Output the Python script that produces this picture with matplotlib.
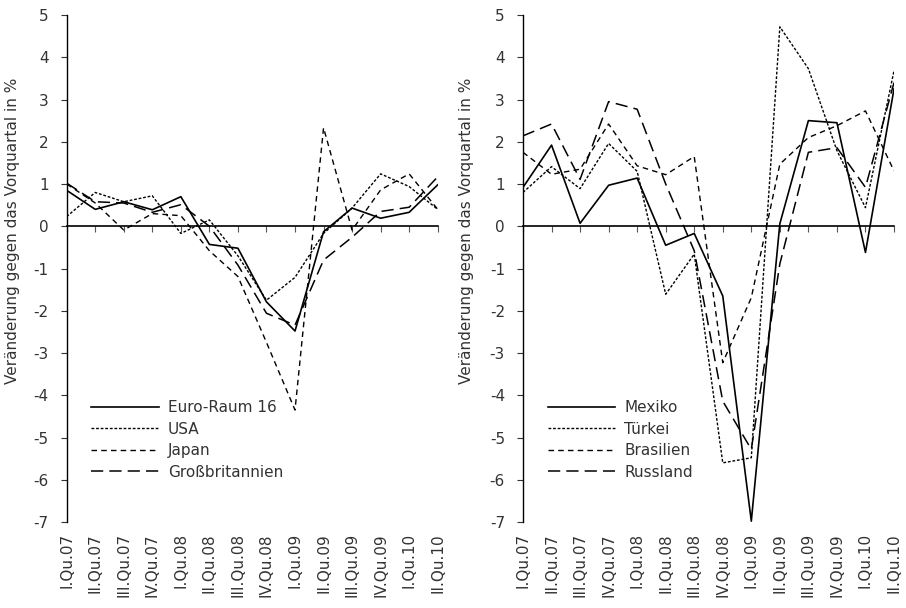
import matplotlib
matplotlib.use("Agg")
import matplotlib.pyplot as plt

categories = ["I.Qu.07", "II.Qu.07", "III.Qu.07", "IV.Qu.07",
              "I.Qu.08", "II.Qu.08", "III.Qu.08", "IV.Qu.08",
              "I.Qu.09", "II.Qu.09", "III.Qu.09", "IV.Qu.09",
              "I.Qu.10", "II.Qu.10"]

euro = [0.85, 0.40, 0.58, 0.39, 0.70, -0.43, -0.52, -1.79, -2.48, -0.13, 0.43, 0.19, 0.33, 0.98]
usa = [0.23, 0.80, 0.58, 0.72, -0.17, 0.15, -0.70, -1.75, -1.21, -0.17, 0.43, 1.24, 0.94, 0.40]
japan = [1.00, 0.55, -0.09, 0.30, 0.25, -0.58, -1.19, -2.75, -4.35, 2.33, -0.09, 0.86, 1.24, 0.40]
gb = [1.02, 0.58, 0.55, 0.33, 0.51, 0.00, -0.92, -2.06, -2.34, -0.80, -0.26, 0.35, 0.45, 1.17]

mexiko = [0.92, 1.92, 0.07, 0.97, 1.14, -0.45, -0.17, -1.65, -6.98, 0.06, 2.50, 2.45, -0.62, 3.25]
tuerkei = [0.80, 1.41, 0.89, 1.96, 1.30, -1.61, -0.66, -5.60, -5.48, 4.72, 3.73, 1.79, 0.44, 3.68]
brasilien = [1.75, 1.23, 1.35, 2.42, 1.43, 1.22, 1.65, -3.23, -1.69, 1.47, 2.10, 2.38, 2.73, 1.31]
russland = [2.14, 2.42, 1.11, 2.95, 2.77, 1.00, -0.58, -4.14, -5.28, -0.89, 1.75, 1.86, 0.92, 3.40]

left_series = [("Euro-Raum 16", euro), ("USA", usa), ("Japan", japan), ("Großbritannien", gb)]
right_series = [("Mexiko", mexiko), ("Türkei", tuerkei), ("Brasilien", brasilien), ("Russland", russland)]

ylabel = "Veränderung gegen das Vorquartal in %"
yticks = list(range(-7, 6))

plt.rcParams['font.family'] = ['DejaVu Sans']
txtcol = "#333333"
FS = 11

styles = [
    dict(linestyle="-", lw=1.2),
    dict(linestyle=(0, (2.0, 1.3)), lw=1.0),
    dict(linestyle=(0, (4.0, 3.0)), lw=1.0),
    dict(linestyle=(0, (8.0, 4.0)), lw=1.1),
]

fig = plt.figure(figsize=(9.06, 6.08), dpi=100)
W, H = 906, 608

def make_axes(x0, x1):
    bottom = 1 - 522 / H
    top = 1 - 15 / H
    return fig.add_axes([x0 / W, bottom, (x1 - x0) / W, top - bottom])

axL = make_axes(66.7, 437.7)
axR = make_axes(523, 894)

for ax, series, lx in ((axL, left_series, -0.125), (axR, right_series, -0.132)):
    x = list(range(len(categories)))
    handles = []
    for (name, vals), st in zip(series, styles):
        h, = ax.plot(x, vals, color="black", label=name, **st)
        handles.append(h)
    ax.set_xlim(0, len(categories) - 1)
    ax.set_ylim(-7, 5)
    ax.set_yticks(yticks)
    ax.set_yticklabels([str(v) for v in yticks], color=txtcol, fontsize=FS)
    ax.tick_params(axis='y', direction='out', length=4, width=0.8, pad=9, colors=txtcol)
    for s in ("top", "right"):
        ax.spines[s].set_visible(False)
    ax.spines["left"].set_linewidth(1.0)
    ax.spines["bottom"].set_position(("data", 0))
    ax.spines["bottom"].set_linewidth(1.2)
    ax.set_xticks(x)
    ax.tick_params(axis='x', direction='out', length=4, width=0.8, labelbottom=False, color="#555555")
    sec = ax.secondary_xaxis('bottom')
    sec.set_xticks(x)
    sec.set_xticklabels(categories, rotation=90, fontsize=FS, color=txtcol, va='top')
    sec.tick_params(length=0, pad=8)
    sec.spines['bottom'].set_visible(False)
    ax.set_ylabel(ylabel, fontsize=FS, color=txtcol)
    ax.yaxis.set_label_coords(lx, 0.575)
    ax.legend(handles=handles, loc="upper left", bbox_to_anchor=(0.05, 0.252),
              frameon=False, fontsize=FS, handlelength=4.4, handletextpad=0.6,
              labelspacing=0.42, borderaxespad=0, labelcolor=txtcol)

fig.savefig("out.png", dpi=100)
